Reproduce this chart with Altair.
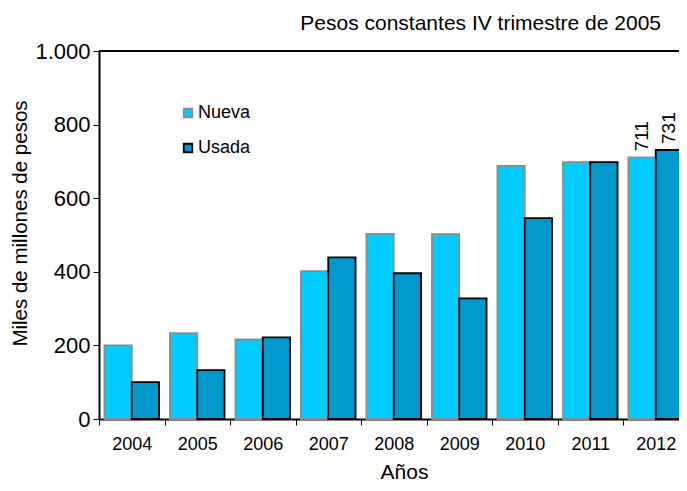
import altair as alt
import pandas as pd

years = ["2004", "2005", "2006", "2007", "2008", "2009", "2010", "2011", "2012"]
nueva = [200, 233, 216, 402, 503, 502, 688, 698, 711]
usada = [100, 133, 222, 439, 396, 328, 546, 698, 731]
series = ["Nueva", "Usada"]
fill_colors = ["#00CCFF", "#0099CC"]
stroke_colors = ["#8C8C8C", "#000000"]
y_ticks = [0, 200, 400, 600, 800, 1000]

rows = []
for i, y in enumerate(years):
    rows.append({"anio": y, "tipo": "Nueva", "valor": nueva[i]})
    rows.append({"anio": y, "tipo": "Usada", "valor": usada[i]})
df = pd.DataFrame(rows)

FONT = "Liberation Sans"
W = 589.5
H = 368
PAD_L = 91
SVG_W = 671
SVG_H = 475
PAD_T = 43

x_enc = alt.X(
    "anio:N",
    sort=years,
    scale=alt.Scale(domain=years, paddingInner=0, paddingOuter=0),
    axis=alt.Axis(
        title="Años",
        titleFontSize=21,
        titleFontWeight="normal",
        titleFont=FONT,
        titleX=305,
        titleY=53,
        titleBaseline="middle",
        titleAlign="center",
        labelAngle=0,
        labelFontSize=18,
        labelFont=FONT,
        labelColor="#000000",
        labelPadding=10,
        tickBand="extent",
        tickSize=6,
        tickColor="#000000",
        domainColor="#000000",
        domainWidth=2,
        labelFlush=False,
        labelOverlap=False,
    ),
)
xoff = alt.XOffset(
    "tipo:N",
    sort=series,
    scale=alt.Scale(domain=series, paddingInner=0, paddingOuter=0.2),
)
y_enc = alt.Y(
    "valor:Q",
    scale=alt.Scale(domain=[0, 1000], nice=False),
    axis=alt.Axis(
        title="Miles de millones de pesos",
        titleFontSize=20.5,
        titleFontWeight="normal",
        titleFont=FONT,
        titleAngle=270,
        titleX=-79,
        titleY=172,
        titleAlign="center",
        titleBaseline="middle",
        values=y_ticks,
        labelExpr="replace(format(datum.value, ','), ',', '.')",
        labelFontSize=22,
        labelFont=FONT,
        labelColor="#000000",
        labelPadding=3,
        tickSize=6,
        tickColor="#000000",
        domainColor="#000000",
        domainWidth=2,
        grid=False,
        labelFlush=False,
    ),
)

bars = alt.Chart(df).mark_bar(strokeWidth=1.8).encode(
    x=x_enc,
    xOffset=xoff,
    y=y_enc,
    color=alt.Color(
        "tipo:N",
        sort=series,
        scale=alt.Scale(domain=series, range=fill_colors),
        legend=alt.Legend(
            title=None,
            orient="none",
            legendX=80,
            legendY=53,
            padding=0,
            labelFontSize=18,
            labelFont=FONT,
            labelColor="#000000",
            symbolType="square",
            symbolSize=72,
            symbolStrokeWidth=1.8,
            rowPadding=17,
            labelOffset=1,
        ),
    ),
    stroke=alt.Stroke(
        "tipo:N",
        sort=series,
        scale=alt.Scale(domain=series, range=stroke_colors),
        legend=None,
    ),
)

labels = alt.Chart(df).mark_text(
    angle=270, align="left", baseline="middle", dx=6, fontSize=19, font=FONT, color="#000000"
).encode(
    x=alt.X("anio:N", sort=years),
    xOffset=alt.XOffset("tipo:N", sort=series),
    y=alt.Y("valor:Q"),
    text=alt.Text("valor:Q"),
).transform_filter(alt.datum.anio == "2012")

top_line = alt.Chart(pd.DataFrame({"v": [1000]})).mark_rule(color="#000000", strokeWidth=2).encode(
    y=alt.Y("v:Q"),
    x=alt.value(0),
    x2=alt.value(W),
)

chart = alt.layer(bars, labels, top_line).properties(
    width=W,
    height=H,
    title=alt.TitleParams(
        "Pesos constantes IV trimestre de 2005",
        anchor="end",
        dx=-28.5,
        fontSize=21,
        fontWeight="normal",
        font=FONT,
        color="#000000",
        offset=6,
    ),
    autosize=alt.AutoSizeParams(type="none"),
    padding={
        "left": PAD_L,
        "top": PAD_T,
        "right": SVG_W - PAD_L - W,
        "bottom": SVG_H - PAD_T - H,
    },
).configure_view(stroke=None).configure(background="#FFFFFF")

chart.save("out.html", embed_options={"renderer": "svg", "actions": False})
